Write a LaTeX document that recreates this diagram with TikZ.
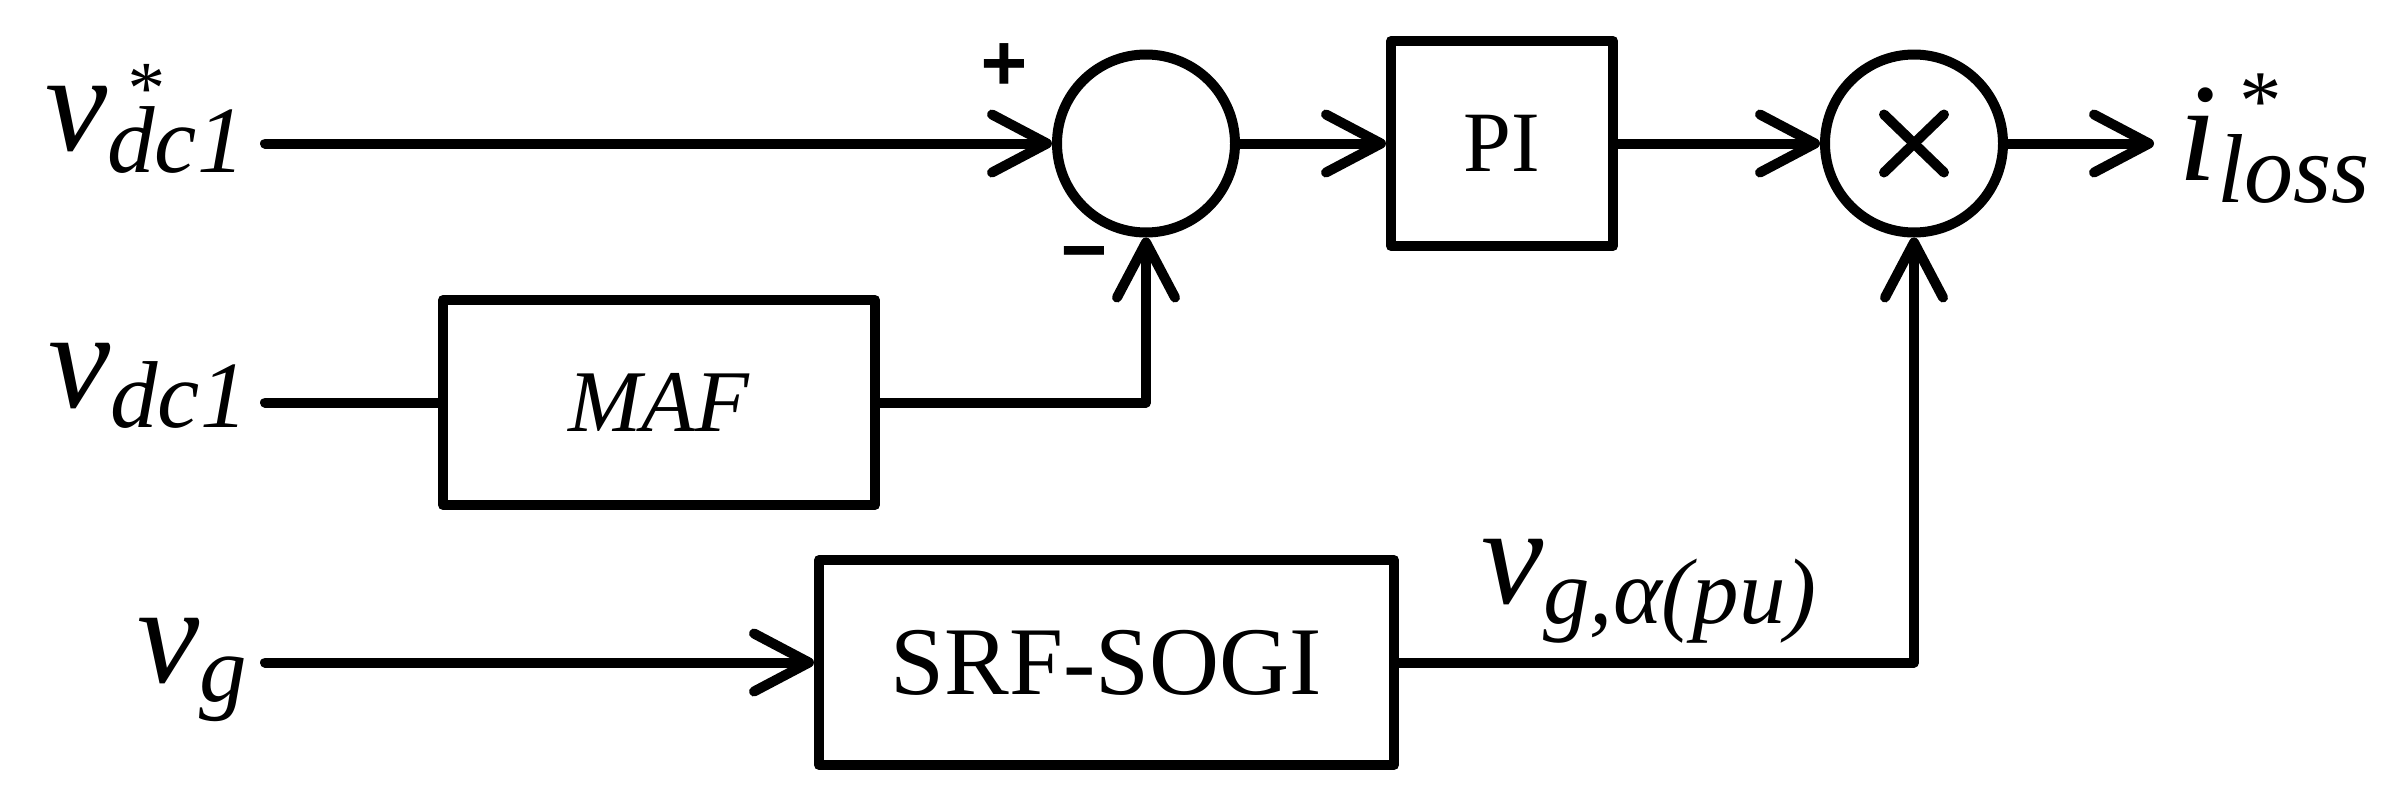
\documentclass[tikz,border=0pt]{standalone}
\usepackage{fontspec}
\setmainfont{Liberation Serif}
\newfontfamily\sgnfont{Liberation Sans}
\usetikzlibrary{arrows.meta}
\newcommand{\fsz}[1]{\fontsize{#1}{#1}\selectfont}
\tikzset{
  ln/.style={line width=10pt, line cap=round, line join=round},
  arr/.style={ln, -{Straight Barb[length=55pt,width=58pt,round]}},
  blk/.style={draw, line width=10pt, line join=round, minimum height=205pt, inner sep=0pt, minimum width=#1},
  junc/.style={circle, draw, line width=10pt, minimum size=178pt, inner sep=0pt},
  lab/.style={anchor=base west, inner sep=0pt},
  sgn/.style={inner sep=0pt, font=\sgnfont\bfseries\itshape\fsz{80}},
}
\begin{document}
\begin{tikzpicture}[x=1pt,y=-1pt]
\useasboundingbox (0,0) rectangle (2396,809);
% blocks
\node[junc] (sum) at (1146,143.5) {};
\node[junc] (mul) at (1914,143.5) {};
\node[blk=222pt, font=\fsz{86}] (pi) at (1502,143.5) {PI};
\node[blk=432pt, font=\fsz{88}\itshape] (maf) at (659,402.5) {MAF};
\node[blk=575pt, font=\fsz{97}] (srf) at (1106.5,662.5) {SRF-SOGI};
% cross
\draw[ln] ([shift={(-30,-29)}]mul.center) -- ([shift={(30,29)}]mul.center);
\draw[ln] ([shift={(-30,29)}]mul.center) -- ([shift={(30,-29)}]mul.center);
% inputs / output
\coordinate (in1) at (265,143.5);
\coordinate (in2) at (265,402.5);
\coordinate (in3) at (265,662.5);
\coordinate (out) at (2154,143.5);
% connectors
\draw[arr] (in1) -- (sum.west);
\draw[arr] (sum.east) -- (pi.west);
\draw[arr] (pi.east) -- (mul.west);
\draw[arr] (mul.east) -- (out);
\draw[ln] (in2) -- (maf.west);
\draw[arr] (maf.east) -| (sum.south);
\draw[arr] (in3) -- (srf.west);
\draw[arr] (srf.east) -| (mul.south);
% signs
\node[sgn] (plus) at (1003,67) {+};
\node[sgn] (minus) at (1083,262) {−};
% labels
\node[lab] (lvref) at (45,150) {\fsz{140}\itshape v\fsz{95}\rlap{\hspace{17pt}\fsz{75}\raisebox{37pt}{*}}\raisebox{-22pt}{dc1}};
\node[lab] (lvdc) at (48,407) {\fsz{140}\itshape v\fsz{95}\raisebox{-20pt}{dc1}};
\node[lab] (lvg) at (137,682) {\fsz{140}\itshape v\fsz{95}\raisebox{-19pt}{g}};
\node[lab] (lvga) at (1481,603) {\fsz{140}\itshape v\fsz{93}\raisebox{-20pt}{g,α(pu)}};
\node[lab] (lout) at (2178,180) {\fsz{140}\itshape i\fsz{98}\rlap{\hspace{18pt}\fsz{85}\raisebox{51pt}{*}}\raisebox{-22pt}{loss}};
\end{tikzpicture}
\end{document}
